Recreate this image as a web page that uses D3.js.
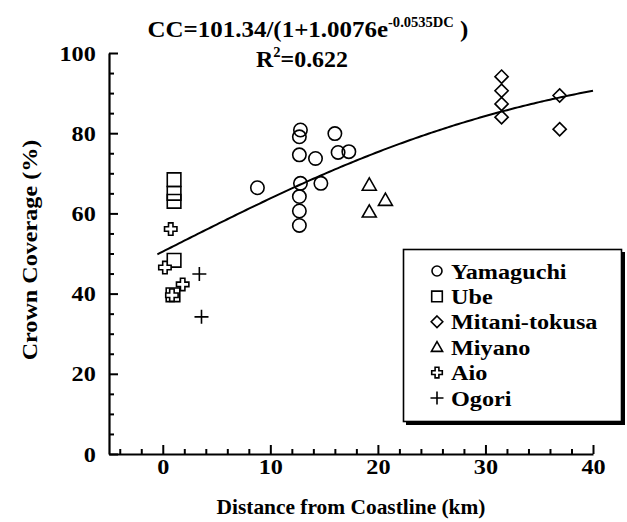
<!DOCTYPE html>
<html>
<head>
<meta charset="utf-8">
<script src="https://cdn.jsdelivr.net/npm/d3@7"></script>
<style>
  html, body { margin: 0; padding: 0; background: #fff; }
  svg { display: block; }
</style>
</head>
<body>
<svg id="chart" width="627" height="522"></svg>
<script>
// ---------- data ----------
const seriesNames = ["Yamaguchi", "Ube", "Mitani-tokusa", "Miyano", "Aio", "Ogori"];

const yamaguchiX = [12.8, 12.7, 16.0, 12.7, 14.2, 16.3, 17.3, 8.8, 12.8, 14.7, 12.7, 12.7, 12.7];
const yamaguchiY = [80.8, 79.1, 79.9, 74.6, 73.7, 75.2, 75.4, 66.4, 67.5, 67.5, 64.2, 60.6, 57.0];

const ubeX = [1.05, 1.05, 1.05, 1.05, 0.95];
const ubeY = [68.4, 65.0, 63.0, 48.3, 39.7];

const mitaniX = [31.5, 31.5, 31.5, 31.5, 36.9, 36.9];
const mitaniY = [94.1, 90.6, 87.3, 84.0, 89.4, 81.0];

const miyanoX = [19.2, 20.7, 19.2];
const miyanoY = [67.1, 63.3, 60.4];

const aioX = [0.74, 0.2, 1.85, 0.85];
const aioY = [56.1, 46.5, 42.3, 39.6];

const ogoriX = [3.4, 3.6];
const ogoriY = [44.9, 34.2];

// fitted curve CC = a / (1 + b e^(c DC))
const fitA = 101.34, fitB = 1.0076, fitC = -0.0535;
const fitRange = [-0.5, 40];

const xTicks = [0, 10, 20, 30, 40];
const xMinorTicks = [-4, -2, 2, 4, 6, 8, 12, 14, 16, 18, 22, 24, 26, 28, 32, 34, 36, 38];
const yTicks = [0, 20, 40, 60, 80, 100];
const yMinorTicks = [5, 10, 15, 25, 30, 35, 45, 50, 55, 65, 70, 75, 85, 90, 95];

// ---------- layout ----------
const FONT = '"Liberation Serif", "Times New Roman", serif';
const svg = d3.select("#chart");
const x = d3.scaleLinear().domain([-5, 40]).range([109, 593]);
const y = d3.scaleLinear().domain([0, 100]).range([454, 53]);

const SX = 1.1; // horizontal stretch of the serif text

function styleText(sel, size) {
  return sel.attr("font-family", null).attr("font-size", null)
    .style("font-family", FONT).style("font-weight", "bold")
    .style("font-size", size + "px").style("fill", "#000");
}

// marker shapes (path generators centred at 0,0)
const shapes = {
  circle: r => `M${r},0A${r},${r} 0 1,1 ${-r},0A${r},${r} 0 1,1 ${r},0Z`,
  square: r => `M${-r},${-r}H${r}V${r}H${-r}Z`,
  diamond: r => `M0,${-r}L${r},0L0,${r}L${-r},0Z`,
  triangle: r => `M0,${-r}L${r},${r * 0.75}L${-r},${r * 0.75}Z`,
  cross: r => { const a = r * 0.36; return `M${-a},${-r}H${a}V${-a}H${r}V${a}H${a}V${r}H${-a}V${a}H${-r}V${-a}H${-a}Z`; },
  plus: r => `M${-r},0H${r}M0,${-r}V${r}`
};
const seriesDefs = [
  { name: seriesNames[0], xs: yamaguchiX, ys: yamaguchiY, shape: "circle", r: 6.7, lr: 5, fill: "none" },
  { name: seriesNames[1], xs: ubeX, ys: ubeY, shape: "square", r: 6.8, lr: 5.3, fill: "none" },
  { name: seriesNames[2], xs: mitaniX, ys: mitaniY, shape: "diamond", r: 6.6, lr: 5.8, fill: "none" },
  { name: seriesNames[3], xs: miyanoX, ys: miyanoY, shape: "triangle", r: 7, lr: 5.6, fill: "none" },
  { name: seriesNames[4], xs: aioX, ys: aioY, shape: "cross", r: 6.2, lr: 5.3, fill: "#fff" },
  { name: seriesNames[5], xs: ogoriX, ys: ogoriY, shape: "plus", r: 7, lr: 6.5, fill: "none" }
];

// ---------- axes ----------
const yAxis = svg.append("g").attr("transform", `translate(${x(-5)},0)`)
  .call(d3.axisLeft(y).tickValues(yTicks).tickSizeInner(-9).tickSizeOuter(0).tickPadding(12));
const yAxisMinor = svg.append("g").attr("transform", `translate(${x(-5)},0)`)
  .call(d3.axisLeft(y).tickValues(yMinorTicks).tickSizeInner(-5).tickSizeOuter(0).tickFormat(""));
yAxisMinor.select(".domain").remove();

const xAxis = svg.append("g").attr("transform", `translate(0,${y(0)})`)
  .call(d3.axisBottom(x).tickValues(xTicks).tickSizeInner(-9).tickSizeOuter(0));
const xAxisMinor = svg.append("g").attr("transform", `translate(0,${y(0)})`)
  .call(d3.axisBottom(x).tickValues(xMinorTicks).tickSizeInner(-5).tickSizeOuter(0).tickFormat(""));
xAxisMinor.select(".domain").remove();

svg.selectAll(".domain").attr("stroke", "#000").attr("stroke-width", 2.2);
svg.selectAll(".tick line").attr("stroke", "#000").attr("stroke-width", 2);

styleText(yAxis.selectAll(".tick text"), 22)
  .attr("transform", `scale(${SX},1)`);
styleText(xAxis.selectAll(".tick text"), 22)
  .attr("y", 20).attr("dy", 0)
  .attr("transform", `scale(${SX},1)`);

// axis titles
styleText(svg.append("text"), 21)
  .attr("transform", `translate(${(x(-5) + x(40)) / 2},514) scale(1.02,1)`)
  .attr("text-anchor", "middle")
  .text("Distance from Coastline (km)");
styleText(svg.append("text"), 21)
  .attr("transform", `translate(37,250) rotate(-90) scale(1.15,1)`)
  .attr("text-anchor", "middle")
  .text("Crown Coverage (%)");

// equation
const eq = styleText(svg.append("text"), 24)
  .attr("transform", `translate(308,37) scale(1.04,1)`)
  .attr("text-anchor", "middle");
eq.append("tspan").text(`CC=${fitA}/(1+${fitB}e`);
eq.append("tspan").attr("dy", -10).style("font-size", "14px").text(`${fitC}DC`);
eq.append("tspan").attr("dy", 10).text(" )");

const r2 = styleText(svg.append("text"), 23)
  .attr("transform", `translate(302,67) scale(1.04,1)`)
  .attr("text-anchor", "middle");
r2.append("tspan").text("R");
r2.append("tspan").attr("dy", -10).style("font-size", "14px").text("2");
r2.append("tspan").attr("dy", 10).text("=0.622");

// ---------- fitted curve ----------
const curveX = d3.range(fitRange[0], fitRange[1] + 0.001, 0.25);
const fitLine = d3.line()
  .x(d => x(d))
  .y(d => y(fitA / (1 + fitB * Math.exp(fitC * d))));
svg.append("path").datum(curveX)
  .attr("d", fitLine)
  .attr("fill", "none").attr("stroke", "#000").attr("stroke-width", 2);

// ---------- points ----------
seriesDefs.forEach(s => {
  const pts = s.xs.map((v, i) => [v, s.ys[i]]);
  svg.append("g").selectAll("path").data(pts).join("path")
    .attr("transform", d => `translate(${x(d[0])},${y(d[1])})`)
    .attr("d", shapes[s.shape](s.r))
    .attr("fill", s.fill)
    .attr("stroke", "#000")
    .attr("stroke-width", 1.6);
});

// ---------- legend ----------
const lg = svg.append("g");
lg.append("rect").attr("x", 406).attr("y", 252).attr("width", 219).attr("height", 173).attr("fill", "#000");
lg.append("rect").attr("x", 403.5).attr("y", 249.5).attr("width", 218).attr("height", 172)
  .attr("fill", "#fff").attr("stroke", "#000").attr("stroke-width", 1.6);
seriesDefs.forEach((s, i) => {
  const cy = 271 + i * 25.4;
  lg.append("path")
    .attr("transform", `translate(437,${cy})`)
    .attr("d", shapes[s.shape](s.lr))
    .attr("fill", s.fill).attr("stroke", "#000").attr("stroke-width", 1.6);
  styleText(lg.append("text"), 22)
    .attr("transform", `translate(451,${cy + 7.5}) scale(${SX},1)`)
    .text(s.name);
});
</script>
</body>
</html>
